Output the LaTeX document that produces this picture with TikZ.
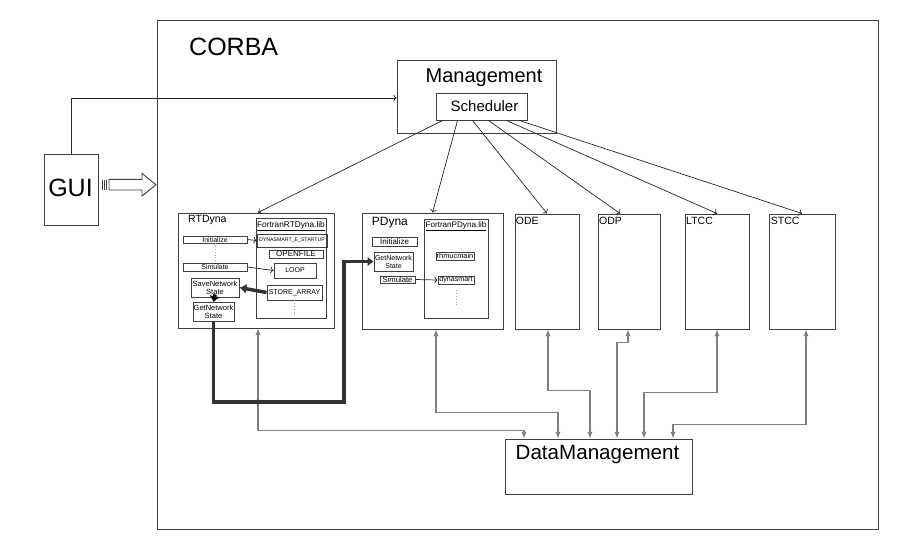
\documentclass[tikz,border=0pt]{standalone}
\usepackage{fontspec}
\setmainfont{Liberation Sans}
\usetikzlibrary{arrows, arrows.meta, positioning}
\newcommand{\fsz}[1]{\fontsize{#1}{#1}\selectfont}
\tikzset{
	block/.style={draw=black!75, line width=1pt, inner sep=0pt},
	part/.style={draw=black!75, line width=0.8pt, inner sep=0pt, align=center},
	call/.style={->, black!85, line width=0.7pt},
	transfer/.style={-{Latex[length=7pt, width=10pt]}, black!80, line width=3.5pt},
	datalink/.style={latex-latex, black!50, line width=1.3pt},
	gap/.style={dotted, black!35, line width=0.8pt}
}

\begin{document}
\begin{tikzpicture}[x=1pt, y=-1pt]
		\useasboundingbox (0,0) rectangle (909,552);
		
		\node[block, minimum width=721, minimum height=509] (corba) at (517.5,274.5) {};
		\node[anchor=base west, inner sep=0pt, font=\fsz{25}] (corbatext) at (189,55) {CORBA};
		
		\node[block, minimum width=159, minimum height=73] (mgmt) at (476.5,96.5) {};
		\node[anchor=base, inner sep=0pt, font=\fsz{20}] (mgmttext) at (484,82) {Management};
		
		\node[block, minimum width=91, minimum height=27] (sched) at (481.5,106.5) {};
		\node[anchor=base, inner sep=0pt, font=\fsz{15}] (schedtext) at (484.5,111.7) {Scheduler};
		
		\node[block, minimum width=54, minimum height=71] (gui) at (71,189.5) {};
		\node[anchor=base, inner sep=0pt, font=\fsz{25}] (guitext) at (70.5,196.7) {GUI};
		
		% RTDyna
		\node[block, minimum width=156, minimum height=115] (rtdyna) at (256,270.5) {};
		\node[anchor=base west, inner sep=0pt, font=\fsz{10.5}] (rtdynatext) at (188,222.7) {RTDyna};
		\node[block, minimum width=70, minimum height=100] (librt) at (291,268) {};
		\node[anchor=base, inner sep=0pt, font=\fsz{8.3}] (librttext) at (291,227.5) {\underline{FortranRTDyna.lib}};
		
		\node[part, minimum width=64, minimum height=7] (initrt) at (215,239.5) {};
		\node[font=\fsz{7}] at (initrt) {Initialize};
		\node[part, minimum width=64, minimum height=8] (simrt) at (215,267) {};
		\node[font=\fsz{7}] at (simrt) {Simulate};
		\node[part, minimum width=48, minimum height=19] (savert) at (215,287.5) {};
		\node[align=center, font=\fontsize{7.5}{8}\selectfont] at (savert) {SaveNetwork\\State};
		\node[part, minimum width=41, minimum height=19] (getrt) at (213.5,311.5) {};
		\node[align=center, font=\fontsize{7.5}{8}\selectfont] at (getrt) {GetNetwork\\State};
		
		\node[part, minimum width=70, minimum height=13] (startrt) at (292,240.5) {};
		\node[font=\fsz{5.2}] at (startrt) {DYNASMART\_E\_STARTUP};
		\node[part, minimum width=54, minimum height=8] (openrt) at (296,254) {};
		\node[font=\fsz{8}] at (openrt) {OPENFILE};
		\node[part, minimum width=42, minimum height=15] (looprt) at (295,270.5) {};
		\node[font=\fsz{7}] at (looprt) {LOOP};
		\node[part, minimum width=55, minimum height=15] (storert) at (294.5,292.5) {};
		\node[font=\fsz{7}] at (storert) {STORE\_ARRAY};
		
		\draw[gap] (initrt.south) -- (simrt.north);
		\draw[gap] (storert.south) -- ++(0,15);
		\draw[call] (initrt.east) -- (startrt.west);
		\draw[call] (simrt.east) -- (looprt.west);
		\draw[transfer] (storert.west) -- (savert.east);
		\draw[transfer, black, -{Latex[length=6pt, width=11pt]}] ([yshift=3pt]savert.south) -- ([yshift=-0.5pt]getrt.north);
		
		% PDyna
		\node[block, minimum width=141, minimum height=116] (pdyna) at (432.5,271) {};
		\node[anchor=base west, inner sep=0pt, font=\fsz{12}] (pdynatext) at (371.7,225) {PDyna};
		\node[block, minimum width=64, minimum height=99] (libpd) at (456,268.5) {};
		\node[anchor=base, inner sep=0pt, font=\fsz{8.1}] (libpdtext) at (456,227.5) {\underline{FortranPDyna.lib}};
		
		\node[part, minimum width=45, minimum height=9] (initpd) at (394.5,241.5) {};
		\node[font=\fsz{8}] at (initpd) {Initialize};
		\node[part, minimum width=39, minimum height=19] (getpd) at (393.5,261.5) {};
		\node[align=center, font=\fontsize{7}{8}\selectfont] at (getpd) {GetNetwork\\State};
		\node[part, minimum width=35, minimum height=7] (simpd) at (397.5,279.5) {};
		\node[font=\fsz{7.7}] at (simpd) {Simulate};
		\node[part, minimum width=38, minimum height=8] (mainpd) at (455,256) {};
		\node[font=\fsz{7.4}] at (mainpd) {rhmucmain};
		\node[part, minimum width=36, minimum height=8] (dynpd) at (456,280) {};
		\node[font=\fsz{7.1}] at (dynpd) {dynasmart};
		
		\draw[gap] ([yshift=-6pt]dynpd.south) -- ++(0,15);
		\draw[call] (simpd.east) -- (dynpd.west);
		
		% optimisation modules
		\node[block, minimum width=64, minimum height=115] (ode) at (547,271.5) {};
		\node[anchor=base west, inner sep=0pt, font=\fsz{10.5}] (odetext) at (515.7,224) {ODE};
		\node[block, minimum width=62, minimum height=115] (odp) at (629,271.5) {};
		\node[anchor=base west, inner sep=0pt, font=\fsz{10.5}] (odptext) at (599,224) {ODP};
		\node[block, minimum width=64, minimum height=115] (ltcc) at (717,271.5) {};
		\node[anchor=base west, inner sep=0pt, font=\fsz{10.5}] (ltcctext) at (686,224) {LTCC};
		\node[block, minimum width=66, minimum height=115] (stcc) at (802,271.5) {};
		\node[anchor=base west, inner sep=0pt, font=\fsz{10.5}] (stcctext) at (770.7,224) {STCC};
		
		\node[block, minimum width=187, minimum height=55] (dm) at (598.5,466.5) {};
		\node[anchor=base, inner sep=0pt, font=\fsz{20.6}] (dmtext) at (597.5,459.3) {DataManagement};
		
		% GUI arrow
		\fill[black!75] (101.7,179.5) rectangle (102.7,190);
		\fill[black!75] (104,179.5) rectangle (105,190);
		\fill[black!75] (106,179.5) rectangle (107.3,190);
		\coordinate (guiarrow) at (109,184.7);
		\draw[black!75, line width=0.9pt, fill=white] (guiarrow) ++(0,-5.3) -- ++(33,0) -- ++(0,-6) -- ++(14,11.3)
			-- ++(-14,11.3) -- ++(0,-6) -- ++(-33,0) -- cycle;
		
		\draw[call] (gui.north) |- ([yshift=-1.5pt]mgmt.west);
		\draw[call] ([xshift=7pt]sched.south west) -- ([xshift=2pt]rtdyna.north);
		\draw[call] ([xshift=22pt]sched.south west) -- (pdyna.north);
		\draw[call] ([xshift=37pt]sched.south west) -- (ode.north);
		\draw[call] ([xshift=53pt]sched.south west) -- ([xshift=-9pt]odp.north);
		\draw[call] ([xshift=71pt]sched.south west) -- (ltcc.north);
		\draw[call] ([xshift=84pt]sched.south west) -- (stcc.north);
		
		\draw[datalink] ([xshift=2pt]rtdyna.south) -- ++(0,102) -| ([xshift=-74.5pt]dm.north);
		\draw[datalink] ([xshift=3.5pt]pdyna.south) -- ++(0,83) -| ([xshift=-40.5pt]dm.north);
		\draw[datalink] ([xshift=1pt]ode.south) -- ++(0,61) -| ([xshift=-8.5pt]dm.north);
		\draw[datalink] ([xshift=-1pt]odp.south) -- ++(0,13) -| ([xshift=18.5pt]dm.north);
		\draw[datalink] (ltcc.south) -- ++(0,63) -| ([xshift=45.5pt]dm.north);
		\draw[datalink] ([xshift=4pt]stcc.south) -- ++(0,95) -| ([xshift=74.5pt]dm.north);
		
		\draw[transfer, -{Latex[length=6pt, width=10pt]}, line join=miter] (getrt.south) |- (344,402) |- (getpd.west);
		\fill[black!80] (258,402) circle (2.5);
	\end{tikzpicture}
\end{document}
